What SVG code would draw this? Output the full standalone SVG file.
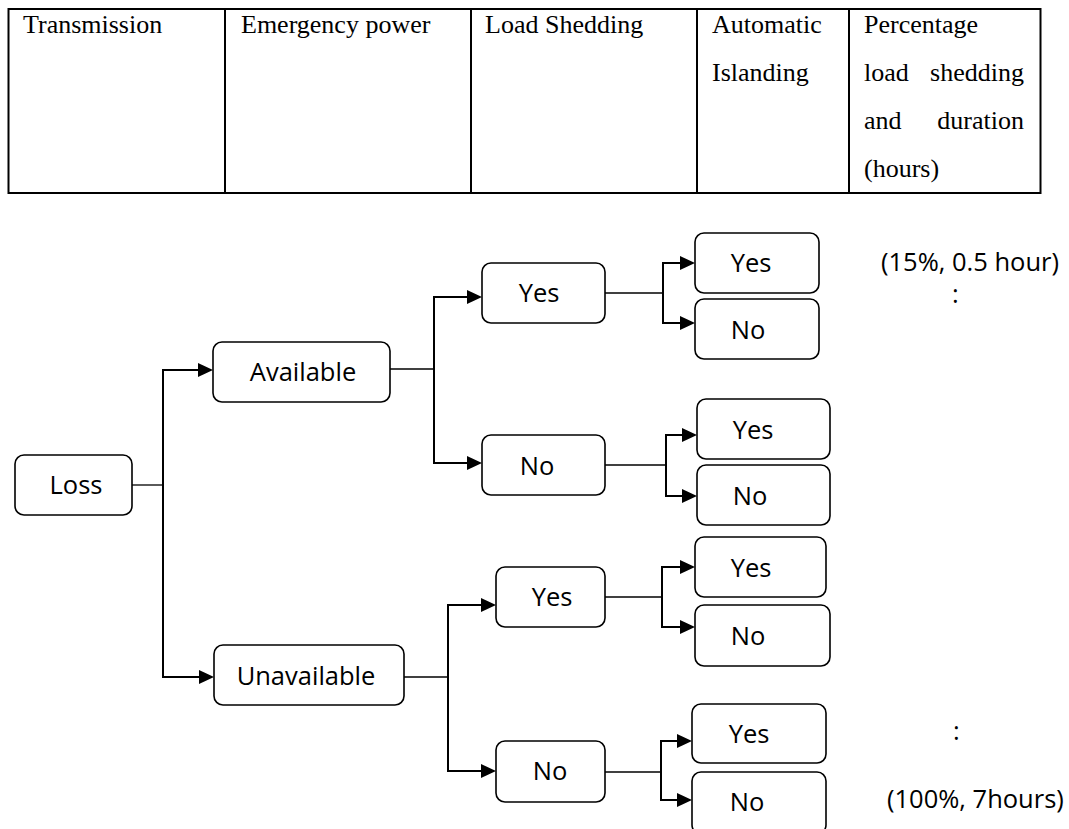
<svg xmlns="http://www.w3.org/2000/svg" width="1069" height="829" viewBox="0 0 1069 829">
  <style>
    .tbl { fill: none; stroke: #000; stroke-width: 2; }
    .th { font-family: "Liberation Serif", "Times New Roman", serif; font-size: 26px; fill: #000; }
    .box { fill: #fff; stroke: #000; stroke-width: 1.6; }
    .lbl { font-family: "Open Sans", "Noto Sans", sans-serif; font-size: 25.5px; fill: #000; text-anchor: middle; }
    .note { font-family: "Open Sans", "Noto Sans", sans-serif; font-size: 25.5px; fill: #000; }
    .feed { fill: none; stroke: #000; stroke-width: 1.3; }
    .arr { fill: none; stroke: #000; stroke-width: 2; marker-end: url(#head); }
  </style>
  <defs>
    <marker id="head" markerUnits="userSpaceOnUse" markerWidth="16" markerHeight="14" refX="0" refY="7" orient="auto">
      <path d="M0,0 L15,7 L0,14 Z" fill="#000"/>
    </marker>
  </defs>

  <rect width="1069" height="829" fill="#fff"/>

  <!-- header table -->
  <g id="table">
    <rect class="tbl" x="8.5" y="9" width="1032" height="184"/>
    <line class="tbl" x1="225" y1="9" x2="225" y2="193"/>
    <line class="tbl" x1="471" y1="9" x2="471" y2="193"/>
    <line class="tbl" x1="697" y1="9" x2="697" y2="193"/>
    <line class="tbl" x1="849" y1="9" x2="849" y2="193"/>
    <text class="th" x="23" y="33">Transmission</text>
    <text class="th" x="241" y="33">Emergency power</text>
    <text class="th" x="485" y="33">Load Shedding</text>
    <text class="th" x="712" y="33">Automatic</text>
    <text class="th" x="712" y="81">Islanding</text>
    <text class="th" x="864" y="33">Percentage</text>
    <text class="th" x="864" y="81">load</text>
    <text class="th" x="1024" y="81" text-anchor="end">shedding</text>
    <text class="th" x="864" y="129">and</text>
    <text class="th" x="1024" y="129" text-anchor="end">duration</text>
    <text class="th" x="864" y="177">(hours)</text>
  </g>

  <!-- connectors -->
  <g id="connectors">
    <!-- Loss -> emergency power -->
    <path class="feed" d="M132,485 H163"/>
    <path class="arr" d="M198,370 H163 V677 H199"/>
    <path class="arr" d="M163,370 H198"/>
    <!-- Available -> load shedding -->
    <path class="feed" d="M390,369 H434"/>
    <path class="arr" d="M467,297 H434 V463 H467"/>
    <path class="arr" d="M434,297 H467"/>
    <!-- Unavailable -> load shedding -->
    <path class="feed" d="M404,677 H448"/>
    <path class="arr" d="M481,605 H448 V771 H481"/>
    <path class="arr" d="M448,605 H481"/>
    <!-- load shedding -> islanding -->
    <path class="feed" d="M605,293 H663"/>
    <path class="arr" d="M680,263 H663 V323 H680"/>
    <path class="arr" d="M663,263 H680"/>
    <path class="feed" d="M605,465 H666"/>
    <path class="arr" d="M682,435 H666 V496 H682"/>
    <path class="arr" d="M666,435 H682"/>
    <path class="feed" d="M605,597 H662"/>
    <path class="arr" d="M680,567 H662 V627 H680"/>
    <path class="arr" d="M662,567 H680"/>
    <path class="feed" d="M605,772 H661"/>
    <path class="arr" d="M677,741 H661 V800 H677"/>
    <path class="arr" d="M661,741 H677"/>
  </g>

  <!-- transmission -->
  <g id="n-loss">
    <rect class="box" x="15" y="455" width="117" height="60" rx="9"/>
    <text class="lbl" x="76" y="494">Loss</text>
  </g>

  <!-- emergency power -->
  <g id="n-available">
    <rect class="box" x="213" y="342" width="177" height="60" rx="9"/>
    <text class="lbl" x="303" y="381">Available</text>
  </g>
  <g id="n-unavailable">
    <rect class="box" x="214" y="645" width="190" height="60" rx="9"/>
    <text class="lbl" x="306" y="685">Unavailable</text>
  </g>

  <!-- load shedding -->
  <g id="n-av-yes">
    <rect class="box" x="482" y="263" width="123" height="60" rx="9"/>
    <text class="lbl" x="539" y="302">Yes</text>
  </g>
  <g id="n-av-no">
    <rect class="box" x="482" y="435" width="123" height="60" rx="9"/>
    <text class="lbl" x="537" y="475">No</text>
  </g>
  <g id="n-un-yes">
    <rect class="box" x="496" y="567" width="109" height="60" rx="9"/>
    <text class="lbl" x="552" y="606">Yes</text>
  </g>
  <g id="n-un-no">
    <rect class="box" x="496" y="741" width="109" height="61" rx="9"/>
    <text class="lbl" x="550" y="780">No</text>
  </g>

  <!-- automatic islanding -->
  <g id="n-av-yes-yes">
    <rect class="box" x="695" y="233" width="124" height="60" rx="9"/>
    <text class="lbl" x="751" y="272">Yes</text>
  </g>
  <g id="n-av-yes-no">
    <rect class="box" x="695" y="299" width="124" height="60" rx="9"/>
    <text class="lbl" x="748" y="339">No</text>
  </g>
  <g id="n-av-no-yes">
    <rect class="box" x="697" y="399" width="133" height="60" rx="9"/>
    <text class="lbl" x="753" y="439">Yes</text>
  </g>
  <g id="n-av-no-no">
    <rect class="box" x="697" y="465" width="133" height="60" rx="9"/>
    <text class="lbl" x="750" y="505">No</text>
  </g>
  <g id="n-un-yes-yes">
    <rect class="box" x="695" y="537" width="131" height="60" rx="9"/>
    <text class="lbl" x="751" y="577">Yes</text>
  </g>
  <g id="n-un-yes-no">
    <rect class="box" x="695" y="605" width="135" height="61" rx="9"/>
    <text class="lbl" x="748" y="645">No</text>
  </g>
  <g id="n-un-no-yes">
    <rect class="box" x="692" y="704" width="134" height="59" rx="9"/>
    <text class="lbl" x="749" y="743">Yes</text>
  </g>
  <g id="n-un-no-no">
    <rect class="box" x="692" y="772" width="134" height="62" rx="9"/>
    <text class="lbl" x="747" y="811">No</text>
  </g>

  <!-- outcome notes -->
  <g id="notes">
    <text class="note" x="881" y="271">(15%, 0.5 hour)</text>
    <text class="note" x="952" y="303">:</text>
    <text class="note" x="953" y="740">:</text>
    <text class="note" x="887" y="808">(100%, 7hours)</text>
  </g>
</svg>
